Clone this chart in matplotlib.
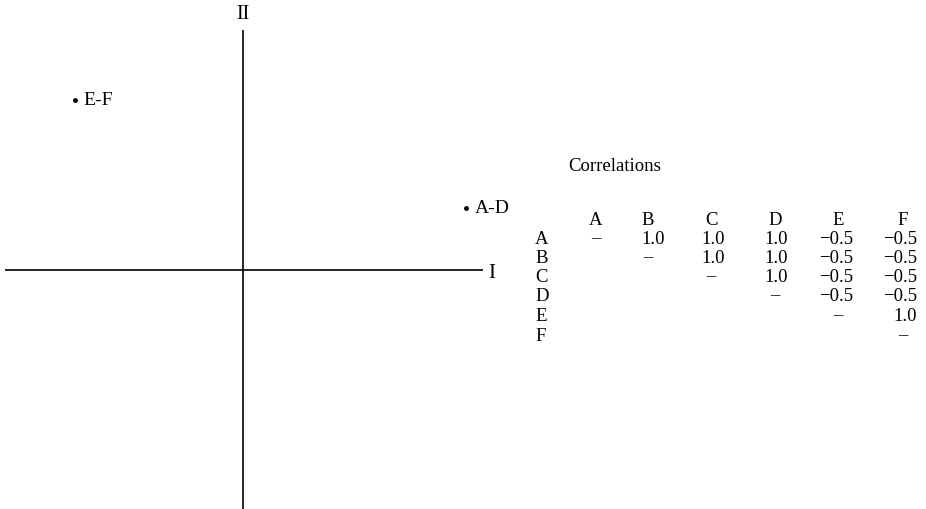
#!/usr/bin/env python3

import matplotlib.pyplot as plt

plt.rcParams['font.family'] = ['Liberation Serif', 'DejaVu Serif']

# factor loadings of the variable groups on axes I and II
groups = ['E-F', 'A-D']
load_I = [-0.70, 0.93]
load_II = [0.71, 0.26]

# correlation matrix (upper triangle, None below the diagonal)
variables = ['A', 'B', 'C', 'D', 'E', 'F']
corr = [
  [0, 1.0, 1.0, 1.0, -0.5, -0.5],
  [None, 0, 1.0, 1.0, -0.5, -0.5],
  [None, None, 0, 1.0, -0.5, -0.5],
  [None, None, None, 0, -0.5, -0.5],
  [None, None, None, None, 0, 1.0],
  [None, None, None, None, None, 0],
]

W, H = 926, 510
fig = plt.figure(figsize=(W/100, H/100), dpi=100)

# factor plot: origin at pixel (243, 271), 240 px per unit
ax = fig.add_axes([3/W, -1/H, 480/W, 480/H])
ax.set_xlim(-1, 1)
ax.set_ylim(-1, 1)
ax.axis('off')
ax.plot([-0.99, 1.0], [0, 0], color='black', lw=1.2, solid_capstyle='butt')
ax.plot([0, 0], [-1.0, 1.0], color='black', lw=1.2, solid_capstyle='butt')
ax.text(1.02, -0.01, 'I', fontsize=15, ha='left', va='center', clip_on=False)
ax.text(0, 1.03, 'II', fontsize=14.5, ha='center', va='bottom', clip_on=False)

for g, x, y in zip(groups, load_I, load_II):
  ax.plot(x, y, 'o', color='black', ms=2.5)
  ax.annotate(g, (x, y), xytext=(6, -3), textcoords='offset points',
              fontsize=14, ha='left', va='baseline')

# correlation table
tb = fig.add_axes([0, 0, 1, 1])
tb.set_xlim(0, W)
tb.set_ylim(H, 0)
tb.axis('off')

fs = 13.5
col_x = [596, 648, 711, 775, 838, 903]
col_right = [612, 665, 725, 788, 853, 917]
row_y = [240, 259, 278, 297, 317, 337]

tb.text(568, 167, 'Correlations', fontsize=fs, ha='left', va='center')
for j, v in enumerate(variables):
  tb.text(col_x[j], 221, v, fontsize=fs, ha='center', va='center')
for i, v in enumerate(variables):
  tb.text(535, row_y[i], v, fontsize=fs, ha='left', va='center')
  for j in range(len(variables)):
    c = corr[i][j]
    if c is None:
      continue
    if i == j:
      tb.text(col_x[j], row_y[i] - 1, '\u2013', fontsize=fs, ha='center', va='center')
    else:
      s = f'{c:.1f}'.replace('-', '\u2212')
      tb.text(col_right[j], row_y[i], s, fontsize=fs, ha='right', va='center')

plt.savefig('out.png', dpi=100)
